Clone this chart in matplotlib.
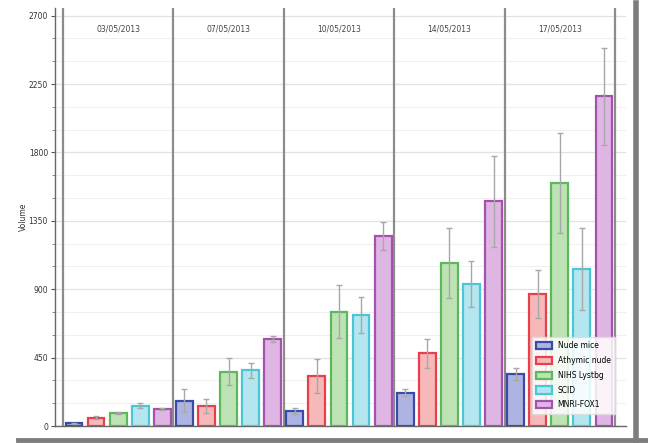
import matplotlib
matplotlib.use("Agg")
import matplotlib.pyplot as plt
from matplotlib.lines import Line2D
import numpy as np

dates = ["03/05/2013", "07/05/2013", "10/05/2013", "14/05/2013", "17/05/2013"]
strains = ["Nude mice", "Athymic nude", "NIHS Lystbg", "SCID", "MNRI-FOX1"]

nude_mice = [18, 167, 99, 219, 340]
athymic_nude = [55, 132, 331, 478, 869]
nihs_lystbg = [88, 357, 752, 1071, 1597]
scid = [134, 367, 731, 933, 1031]
mnri_fox1 = [112, 573, 1251, 1477, 2168]

nude_mice_err = [5, 78, 19, 24, 40]
athymic_nude_err = [8, 48, 112, 97, 158]
nihs_lystbg_err = [6, 90, 176, 230, 330]
scid_err = [16, 50, 120, 153, 270]
mnri_fox1_err = [4, 20, 94, 297, 322]

values = [nude_mice, athymic_nude, nihs_lystbg, scid, mnri_fox1]
errors = [nude_mice_err, athymic_nude_err, nihs_lystbg_err, scid_err, mnri_fox1_err]

edge_colors = ["#3a4aa6", "#e8404a", "#5cb85a", "#4cc6d6", "#a452ae"]
face_colors = ["#aeb4e2", "#f7b8ba", "#bde3b4", "#b4e6ef", "#dfb6e3"]

y_ticks = [0, 450, 900, 1350, 1800, 2250, 2700]

fig = plt.figure(figsize=(6.48, 4.43), dpi=100)
ax = fig.add_axes([55 / 648, 17 / 443, (626 - 55) / 648, (435 - 17) / 443])

n = len(strains)
slot = 1.0 / n
width = slot * 0.76
x = np.arange(len(dates))

for k in range(n):
    pos = x - 0.5 + slot * (k + 0.5)
    ax.bar(pos, values[k], width=width, color=face_colors[k],
           edgecolor=edge_colors[k], linewidth=1.6, label=strains[k], zorder=3)
    ax.errorbar(pos, values[k], yerr=errors[k], fmt="none", ecolor="#a8a8a8",
                elinewidth=1.0, capsize=2.5, capthick=1.0, zorder=4)

# group separators
for b in np.arange(len(dates) + 1) - 0.5:
    ax.axvline(b, color="#8c8c8c", linewidth=1.6, zorder=2)

for i, d in enumerate(dates):
    ax.text(i, 2610, d, ha="center", va="center", fontsize=5.5, color="#444444")

ax.set_xlim(-0.572, 4.6)
ax.set_ylim(0, 2750)
ax.set_yticks(y_ticks)
ax.set_yticklabels([str(t) for t in y_ticks])
ax.set_yticks(np.arange(0, 2751, 150), minor=True)
ax.set_xticks([])
ax.tick_params(axis="y", which="major", labelsize=5.5, length=3, width=0.8,
               colors="#555555", labelcolor="#333333", pad=2)
ax.tick_params(axis="y", which="minor", length=2, width=0.6, colors="#777777")
ax.grid(axis="y", which="major", color="#e2e2e2", linewidth=0.9, zorder=0)
ax.grid(axis="y", which="minor", color="#efefef", linewidth=0.7, zorder=0)

for side in ["top", "right"]:
    ax.spines[side].set_visible(False)
ax.spines["left"].set_color("#666666")
ax.spines["left"].set_linewidth(1.0)
ax.spines["bottom"].set_color("#666666")
ax.spines["bottom"].set_linewidth(1.0)

ax.set_ylabel("Volume", fontsize=5.5, color="#333333", labelpad=0.5)

leg = ax.legend(loc="lower right", bbox_to_anchor=(0.988, 0.02), fontsize=5.5,
                frameon=True, fancybox=False, handlelength=2.0, handleheight=1.1,
                labelspacing=0.75, borderpad=0.6, handletextpad=0.8)
leg.get_frame().set_edgecolor("#dddddd")
leg.get_frame().set_facecolor("white")
leg.get_frame().set_alpha(0.85)
leg.set_zorder(10)

# outer frame strips along the bottom and right edges
fig.add_artist(Line2D([18 / 648, 1.0], [3 / 443, 3 / 443], transform=fig.transFigure,
                      color="#7d7d7d", linewidth=3.5))
fig.add_artist(Line2D([636 / 648, 636 / 648], [3 / 443, 440 / 443], transform=fig.transFigure,
                      color="#7d7d7d", linewidth=4.0))

fig.savefig("out.png", dpi=100)
